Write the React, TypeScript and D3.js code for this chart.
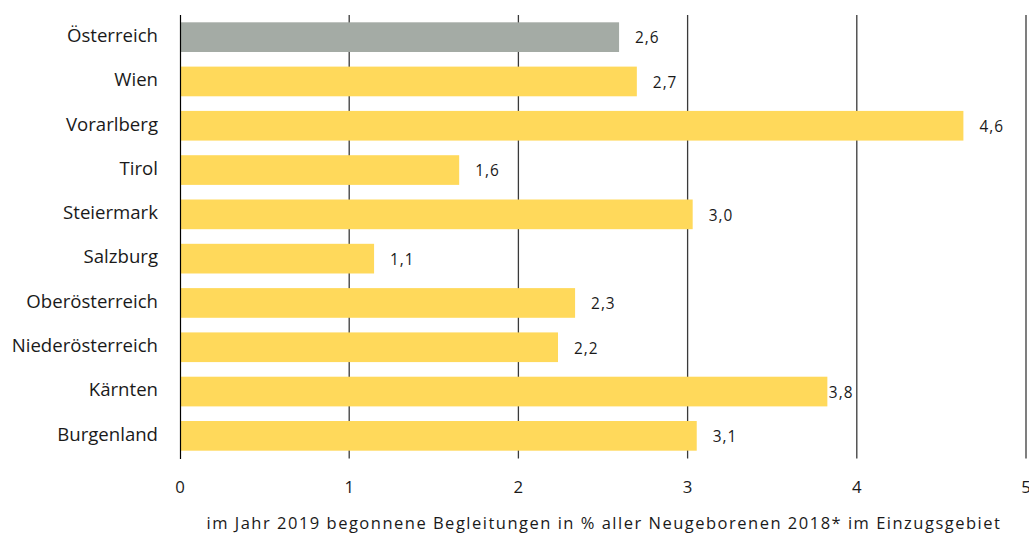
import React, { useEffect, useRef } from "react";
import * as d3 from "d3";

const categories = [
  "Österreich",
  "Wien",
  "Vorarlberg",
  "Tirol",
  "Steiermark",
  "Salzburg",
  "Oberösterreich",
  "Niederösterreich",
  "Kärnten",
  "Burgenland",
];
const values = [2.595, 2.7, 4.63, 1.65, 3.03, 1.147, 2.335, 2.234, 3.826, 3.054];
const valueLabels = ["2,6", "2,7", "4,6", "1,6", "3,0", "1,1", "2,3", "2,2", "3,8", "3,1"];
const xTicks = [0, 1, 2, 3, 4, 5];
const axisTitle =
  "im Jahr 2019 begonnene Begleitungen in % aller Neugeborenen 2018* im Einzugsgebiet";

const W = 1029;
const H = 533;
const FONT = "'Open Sans', sans-serif";
const YELLOW = "#FFD95B";
const GREY = "#A4ABA5";

export default function App() {
  const ref = useRef<SVGSVGElement>(null);

  useEffect(() => {
    const svg = d3.select(ref.current);
    svg.selectAll("*").remove();

    const x = d3.scaleLinear().domain([0, 5]).range([180, 1026]);
    const y = d3
      .scaleBand<string>()
      .domain(categories)
      .range([15, 458])
      .paddingInner(0.33)
      .paddingOuter(0.165);

    const data = categories.map((c, i) => ({ c, v: values[i], l: valueLabels[i], i }));

    // gridlines
    svg
      .append("g")
      .selectAll("line")
      .data(xTicks.filter((t) => t > 0))
      .join("line")
      .attr("x1", (d) => x(d))
      .attr("x2", (d) => x(d))
      .attr("y1", 15)
      .attr("y2", 458.5)
      .attr("stroke", "#3a3a3a")
      .attr("stroke-width", 1.3);

    // bars
    svg
      .append("g")
      .selectAll("rect")
      .data(data)
      .join("rect")
      .attr("x", x(0))
      .attr("y", (d) => y(d.c)!)
      .attr("width", (d) => x(d.v) - x(0))
      .attr("height", y.bandwidth())
      .attr("fill", (d) => (d.i === 0 ? GREY : YELLOW));

    // zero axis line
    svg
      .append("line")
      .attr("x1", x(0) + 0.5)
      .attr("x2", x(0) + 0.5)
      .attr("y1", 15)
      .attr("y2", 459)
      .attr("stroke", "#000")
      .attr("stroke-width", 1.2);

    // category labels
    svg
      .append("g")
      .selectAll("text")
      .data(data)
      .join("text")
      .attr("x", 158)
      .attr("y", (d) => y(d.c)! + y.bandwidth() / 2 + 4.8)
      .attr("text-anchor", "end")
      .attr("font-family", FONT)
      .attr("font-size", 18.6)
      .attr("fill", "#1a1a1a")
      .text((d) => d.c);

    // value labels
    const gridXs = xTicks.map((t) => x(t));
    const vl = svg
      .append("g")
      .selectAll("text")
      .data(data)
      .join("text")
      .attr("y", (d) => y(d.c)! + y.bandwidth() / 2 + 6.3)
      .attr("font-family", FONT)
      .attr("font-size", 15.4)
      .attr("letter-spacing", 1)
      .attr("fill", "#1a1a1a")
      .text((d) => d.l);
    vl.each(function (d) {
      const el = this as SVGTextElement;
      const w = el.getComputedTextLength();
      let px = x(d.v) + 16;
      if (gridXs.some((g) => g > px - 2 && g < px + w + 2)) px = x(d.v) + 1.5;
      d3.select(el).attr("x", px);
    });

    // tick labels
    svg
      .append("g")
      .selectAll("text")
      .data(xTicks)
      .join("text")
      .attr("x", (d) => x(d))
      .attr("y", 492.5)
      .attr("text-anchor", "middle")
      .attr("font-family", FONT)
      .attr("font-size", 16.8)
      .attr("fill", "#1a1a1a")
      .text((d) => String(d));

    // axis title
    svg
      .append("text")
      .attr("x", 604)
      .attr("y", 529.3)
      .attr("text-anchor", "middle")
      .attr("font-family", FONT)
      .attr("font-size", 16.5)
      .attr("letter-spacing", 1.5)
      .attr("fill", "#1a1a1a")
      .text(axisTitle);
  }, []);

  return (
    <svg
      ref={ref}
      width={W}
      height={H}
      style={{ position: "absolute", left: 0, top: 0, background: "#fff" }}
    />
  );
}
